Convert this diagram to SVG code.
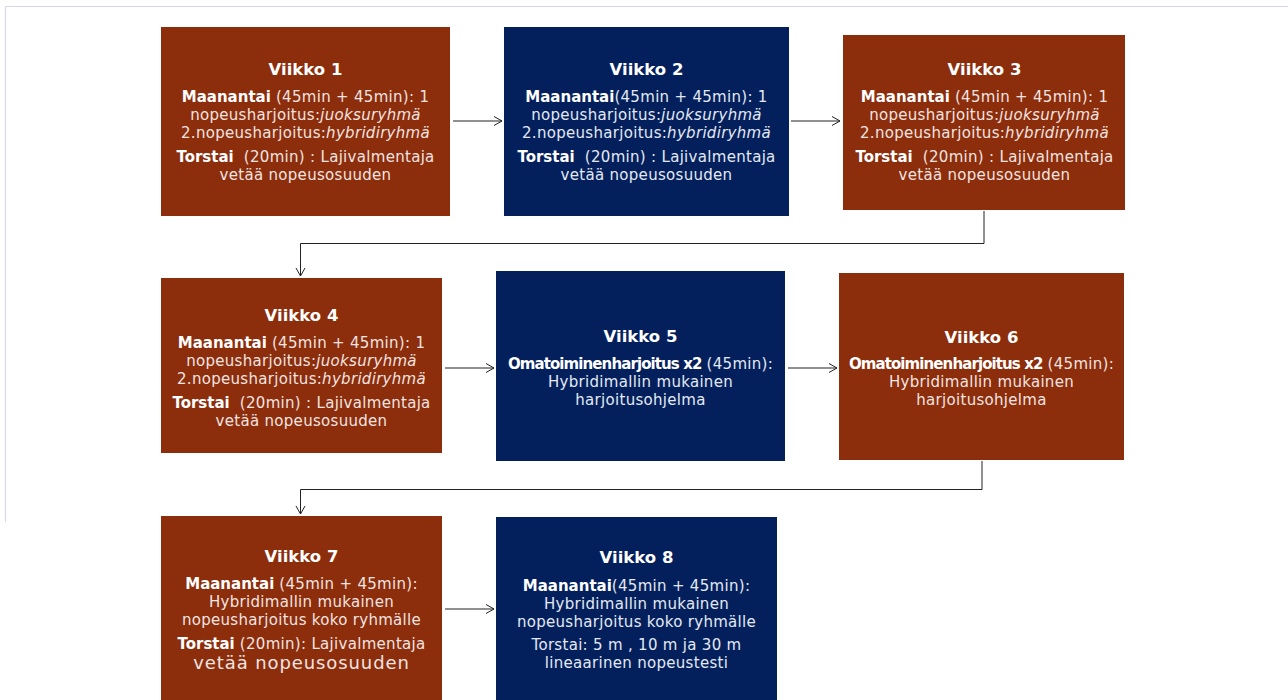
<svg xmlns="http://www.w3.org/2000/svg" width="1288" height="700" viewBox="0 0 1288 700">
<defs>
<marker id="arr" markerUnits="userSpaceOnUse" markerWidth="12" markerHeight="12" refX="9" refY="5" orient="auto">
<path d="M1,0.5 L9,5 L1,9.5" fill="none" stroke="#222" stroke-width="1"/>
</marker>
<style>
.brown{fill:#8C2D0B;}
.navy{fill:#03205C;}
text{font-family:"DejaVu Sans","Liberation Sans",sans-serif;text-anchor:middle;}
.t{font-size:16.5px;font-weight:bold;fill:#FFFFFF;}
.b{font-size:15px;letter-spacing:0.3px;}
.bb{font-weight:bold;fill:#FFFFFF;letter-spacing:0px;}
.bo{font-weight:bold;fill:#FFFFFF;letter-spacing:-0.9px;}
.i{font-style:italic;}
.lb{fill:#F2E4E1;}
.ln{fill:#E3E9F3;}
.conn{fill:none;stroke:#222;stroke-width:1;marker-end:url(#arr);}
</style>
</defs>
<rect x="0" y="0" width="1288" height="700" fill="#FFFFFF"/>
<path d="M5.5,522 V6.5 H1288" fill="none" stroke="#DCD4EA" stroke-width="1.2"/>

<g id="connectors">
<path class="conn" d="M453,121 H502"/>
<path class="conn" d="M791,121 H840"/>
<path class="conn" d="M984,211 V243.5 H300.5 V276"/>
<path class="conn" d="M445,368 H494"/>
<path class="conn" d="M788,368 H837"/>
<path class="conn" d="M982,461 V489.5 H300.5 V514"/>
<path class="conn" d="M445,609 H494"/>
</g>

<g id="viikko1">
<rect class="brown" x="161" y="27" width="289" height="189"/>
<text class="t" x="305.5" y="75">Viikko 1</text>
<text class="b lb" x="305.5"><tspan x="305.5" y="102"><tspan class="bb">Maanantai</tspan> (45min + 45min): 1</tspan><tspan x="305.5" y="120">nopeusharjoitus:<tspan class="i">juoksuryhmä</tspan></tspan><tspan x="305.5" y="138">2.nopeusharjoitus:<tspan class="i">hybridiryhmä</tspan></tspan><tspan x="305.5" y="162"><tspan class="bb">Torstai</tspan>&#160; (20min) : Lajivalmentaja</tspan><tspan x="305.5" y="180">vetää nopeusosuuden</tspan></text>
</g>

<g id="viikko2">
<rect class="navy" x="504" y="27" width="285" height="189"/>
<text class="t" x="646.5" y="75">Viikko 2</text>
<text class="b ln" x="646.5"><tspan x="646.5" y="102"><tspan class="bb">Maanantai</tspan>(45min + 45min): 1</tspan><tspan x="646.5" y="120">nopeusharjoitus:<tspan class="i">juoksuryhmä</tspan></tspan><tspan x="646.5" y="138">2.nopeusharjoitus:<tspan class="i">hybridiryhmä</tspan></tspan><tspan x="646.5" y="162"><tspan class="bb">Torstai</tspan>&#160; (20min) : Lajivalmentaja</tspan><tspan x="646.5" y="180">vetää nopeusosuuden</tspan></text>
</g>

<g id="viikko3">
<rect class="brown" x="843" y="35" width="282" height="175"/>
<text class="t" x="984.5" y="75">Viikko 3</text>
<text class="b lb" x="984.5"><tspan x="984.5" y="102"><tspan class="bb">Maanantai</tspan> (45min + 45min): 1</tspan><tspan x="984.5" y="120">nopeusharjoitus:<tspan class="i">juoksuryhmä</tspan></tspan><tspan x="984.5" y="138">2.nopeusharjoitus:<tspan class="i">hybridiryhmä</tspan></tspan><tspan x="984.5" y="162"><tspan class="bb">Torstai</tspan>&#160; (20min) : Lajivalmentaja</tspan><tspan x="984.5" y="180">vetää nopeusosuuden</tspan></text>
</g>

<g id="viikko4">
<rect class="brown" x="161" y="278" width="281" height="175"/>
<text class="t" x="301.5" y="321">Viikko 4</text>
<text class="b lb" x="301.5"><tspan x="301.5" y="348"><tspan class="bb">Maanantai</tspan> (45min + 45min): 1</tspan><tspan x="301.5" y="366">nopeusharjoitus:<tspan class="i">juoksuryhmä</tspan></tspan><tspan x="301.5" y="384">2.nopeusharjoitus:<tspan class="i">hybridiryhmä</tspan></tspan><tspan x="301.5" y="408"><tspan class="bb">Torstai</tspan>&#160; (20min) : Lajivalmentaja</tspan><tspan x="301.5" y="426">vetää nopeusosuuden</tspan></text>
</g>

<g id="viikko5">
<rect class="navy" x="496" y="271" width="289" height="190"/>
<text class="t" x="640.5" y="342">Viikko 5</text>
<text class="b ln" x="640.5"><tspan x="640.5" y="369"><tspan class="bo">Omatoiminenharjoitus x2</tspan> (45min):</tspan><tspan x="640.5" y="387">Hybridimallin mukainen</tspan><tspan x="640.5" y="405">harjoitusohjelma</tspan></text>
</g>

<g id="viikko6">
<rect class="brown" x="839" y="273" width="285" height="187"/>
<text class="t" x="981.5" y="343">Viikko 6</text>
<text class="b lb" x="981.5"><tspan x="981.5" y="369"><tspan class="bo">Omatoiminenharjoitus x2</tspan> (45min):</tspan><tspan x="981.5" y="387">Hybridimallin mukainen</tspan><tspan x="981.5" y="405">harjoitusohjelma</tspan></text>
</g>

<g id="viikko7">
<rect class="brown" x="161" y="516" width="281" height="190"/>
<text class="t" x="301.5" y="562">Viikko 7</text>
<text class="b lb" x="301.5"><tspan x="301.5" y="589"><tspan class="bb">Maanantai</tspan> (45min + 45min):</tspan><tspan x="301.5" y="607">Hybridimallin mukainen</tspan><tspan x="301.5" y="625">nopeusharjoitus koko ryhmälle</tspan><tspan x="301.5" y="649"><tspan class="bb">Torstai</tspan> (20min): Lajivalmentaja</tspan><tspan x="301.5" y="669" style="font-size:18px;letter-spacing:0.9px">vetää nopeusosuuden</tspan></text>
</g>

<g id="viikko8">
<rect class="navy" x="496" y="517" width="281" height="190"/>
<text class="t" x="636.5" y="563">Viikko 8</text>
<text class="b ln" x="636.5"><tspan x="636.5" y="591"><tspan class="bb">Maanantai</tspan>(45min + 45min):</tspan><tspan x="636.5" y="609">Hybridimallin mukainen</tspan><tspan x="636.5" y="627">nopeusharjoitus koko ryhmälle</tspan><tspan x="636.5" y="650">Torstai: 5 m , 10 m ja 30 m</tspan><tspan x="636.5" y="668">lineaarinen nopeustesti</tspan></text>
</g>
</svg>
